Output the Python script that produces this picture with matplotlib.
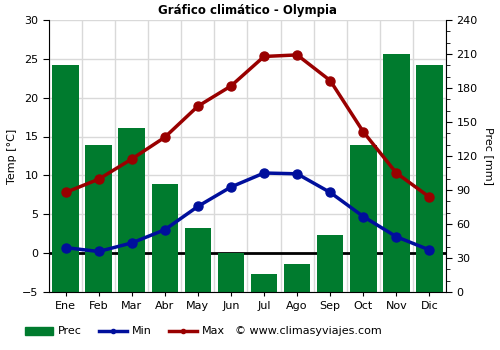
import matplotlib
matplotlib.use("Agg")
import matplotlib.pyplot as plt
from matplotlib.lines import Line2D
from matplotlib.patches import Patch
from matplotlib.ticker import MultipleLocator

months = ["Ene", "Feb", "Mar", "Abr", "May", "Jun", "Jul", "Ago", "Sep", "Oct", "Nov", "Dic"]
prec = [200, 130, 145, 95, 56, 34, 16, 25, 50, 130, 210, 200]
tmin = [0.7, 0.2, 1.3, 3.0, 6.0, 8.5, 10.3, 10.2, 7.8, 4.7, 2.1, 0.4]
tmax = [7.8, 9.5, 12.1, 14.9, 18.9, 21.5, 25.3, 25.5, 22.2, 15.6, 10.3, 7.2]

green = "#007b2e"
blue = "#000f9c"
red = "#990000"

fig = plt.figure(figsize=(5, 3.5), dpi=100)
ax = fig.add_axes([0.098, 0.166, 0.794, 0.777])
ax2 = ax.twinx()

x = list(range(len(months)))
ax2.bar(x, prec, width=0.8, color=green, zorder=2)
ax2.set_ylim(0, 240)
ax2.yaxis.set_major_locator(MultipleLocator(30))
ax2.yaxis.set_minor_locator(MultipleLocator(10))
ax2.set_ylabel("Prec [mm]", fontsize=8, rotation=270, labelpad=12)

ax.set_zorder(ax2.get_zorder() + 1)
ax.patch.set_visible(False)
ax2.set_zorder(0)

for v in range(-5, 31, 5):
    yy = (v + 5) * 240 / 35
    ax2.axhline(yy, color="#d9d9d9", lw=1, zorder=0)
for xv in range(0, 13):
    ax2.axvline(xv - 0.5, color="#d9d9d9", lw=1, zorder=0)
ax2.axhline(5 * 240 / 35, color="black", lw=2, zorder=1)

ax.plot(x, tmin, color=blue, lw=2.5, marker="o", ms=6.5, zorder=3)
ax.plot(x, tmax, color=red, lw=2.5, marker="o", ms=6.5, zorder=3)
ax.set_ylim(-5, 30)
ax.set_xlim(-0.5, 11.5)
ax2.set_xlim(-0.5, 11.5)
ax.yaxis.set_major_locator(MultipleLocator(5))
ax.set_xticks(x)
ax.set_xticklabels(months)
ax.set_ylabel("Temp [°C]", fontsize=8)
ax.set_title("Gráfico climático - Olympia", fontsize=8.5, fontweight="bold", pad=4)

for a in (ax, ax2):
    a.tick_params(labelsize=8, length=4)
    a.spines["top"].set_visible(False)
ax.spines["right"].set_visible(False)
ax2.spines["left"].set_visible(False)
ax2.spines["bottom"].set_visible(False)
ax2.tick_params(which="minor", length=3)
ax.tick_params(axis="x", length=3)

handles = [Patch(color=green, label="Prec"),
           Line2D([0], [0], color=blue, lw=2.5, marker="o", ms=3, label="Min"),
           Line2D([0], [0], color=red, lw=2.5, marker="o", ms=3, label="Max")]
fig.legend(handles=handles, loc="lower left", bbox_to_anchor=(0.03, 0.01), ncol=3,
           frameon=False, fontsize=8, handlelength=2.5, columnspacing=1.5, handletextpad=0.5)
fig.text(0.47, 0.055, "© www.climasyviajes.com", fontsize=8, va="center")

fig.savefig("out.png", dpi=100)
